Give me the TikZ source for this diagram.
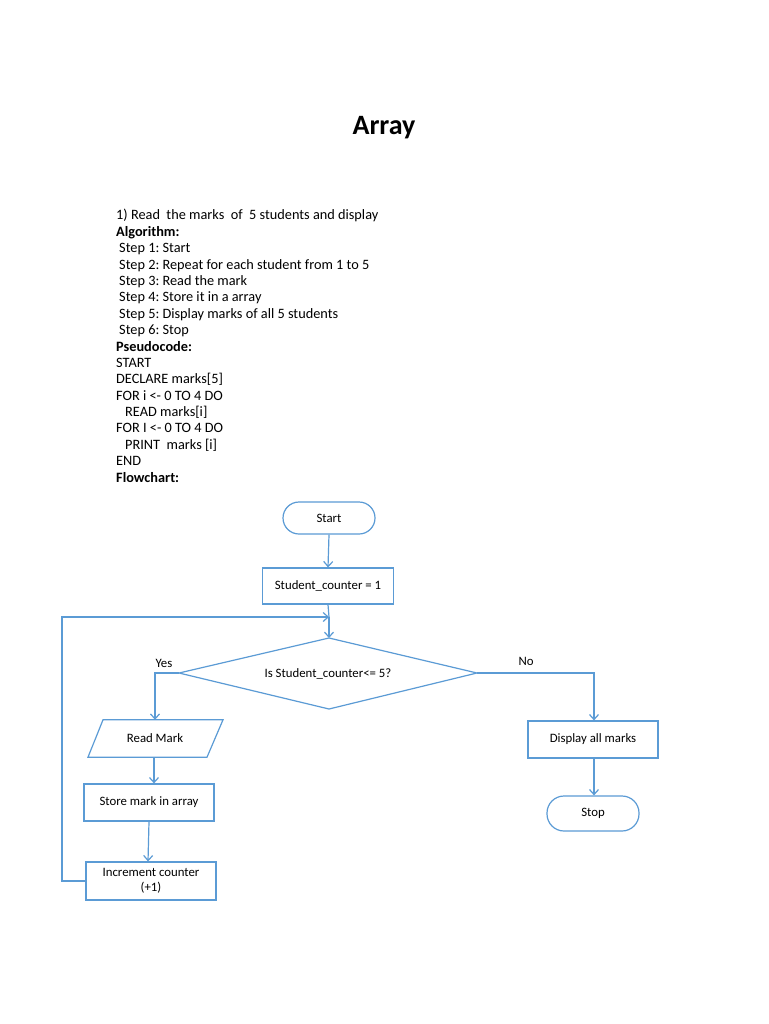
\documentclass[tikz,border=0pt]{standalone}
\usepackage{fontspec}
\setmainfont{Carlito}
\frenchspacing
\usetikzlibrary{arrows.meta}
\definecolor{fcblue}{HTML}{5B9BD5}
\tikzset{
  body/.style={anchor=base west, inner sep=0pt, font=\fontsize{14.3}{16}\selectfont},
  fcbox/.style={draw=fcblue, line width=1.2pt, fill=white, inner sep=2pt, align=center, font=\fontsize{12.8}{14.5}\selectfont},
  fctext/.style={inner sep=0pt, align=center, font=\fontsize{12.8}{14.5}\selectfont},
  flow/.style={draw=fcblue, line width=1.2pt, -{Straight Barb[length=5pt,width=9pt,line width=1.2pt]}},
  plain/.style={draw=fcblue, line width=1.2pt},
  lbl/.style={inner sep=0pt, font=\fontsize{12.8}{14.5}\selectfont}
}
\begin{document}
\begin{tikzpicture}[x=1pt,y=-1pt]
\useasboundingbox[fill=white] (0,0) rectangle (768,1024);
\node[inner sep=0pt, font=\fontsize{28}{32}\bfseries] (title) at (384,127.5) {Array};

\node[body] (l1) at (116,220) {1) Read\ \ the marks\ \ of\ \ 5 students and display};
\node[body] (l2) at (116,236.4) {\bfseries Algorithm:};
\node[body] (l3) at (119,252.8) {Step 1: Start};
\node[body] (l4) at (119,269.1) {Step 2: Repeat for each student from 1 to 5};
\node[body] (l5) at (119,285.5) {Step 3: Read the mark};
\node[body] (l6) at (119,301.9) {Step 4: Store it in a array};
\node[body] (l7) at (119,318.3) {Step 5: Display marks of all 5 students};
\node[body] (l8) at (119,334.6) {Step 6: Stop};
\node[body] (l9) at (116,351.0) {\bfseries Pseudocode:};
\node[body] (l10) at (116,367.4) {START};
\node[body] (l11) at (116,383.8) {DECLARE marks[5]};
\node[body] (l12) at (116,400.1) {FOR i <- 0 TO 4 DO};
\node[body] (l13) at (125,416.5) {READ marks[i]};
\node[body] (l14) at (116,432.9) {FOR I <- 0 TO 4 DO};
\node[body] (l15) at (125,449.3) {PRINT\ \ marks [i]};
\node[body] (l16) at (116,465.6) {END};
\node[body] (l17) at (116,482.0) {\bfseries Flowchart:};

% flowchart nodes
\node[fcbox, rounded corners=16pt, minimum width=92pt, minimum height=32pt] (start) at (329,518) {Start};
\node[fcbox, minimum width=131pt, minimum height=36pt] (init) at (328,586) {Student\_counter = 1};
\coordinate (dtop) at (329,638);
\coordinate (dleft) at (179,673);
\coordinate (dright) at (477,673);
\coordinate (dbot) at (329,709);
\draw[draw=fcblue, line width=1.2pt, fill=white] (dtop) -- (dright) -- (dbot) -- (dleft) -- cycle;
\node[fctext] (dec) at (328,673.5) {Is Student\_counter<= 5?};
\coordinate (join) at (329,617);

\node[fctext, minimum width=120pt, minimum height=37pt] (read) at (155,738.5) {Read Mark};
\draw[draw=fcblue, line width=1.2pt] ([xshift=-52pt]read.north) -- ([xshift=68pt]read.north) -- ([xshift=52pt]read.south) -- ([xshift=-67pt]read.south) -- cycle;
\node[fcbox, minimum width=130pt, minimum height=37pt] (store) at (149,802.5) {Store mark in array};
\node[fcbox, minimum width=130pt, minimum height=38pt] (inc) at (151,881) {Increment counter\\(+1)};
\node[fcbox, minimum width=130pt, minimum height=37pt] (disp) at (593,739.5) {Display all marks};
\node[fcbox, rounded corners=17pt, minimum width=92pt, minimum height=35pt] (stop) at (593,813.5) {Stop};

% connectors
\draw[flow] (start.south) -- (init.north);
\draw[plain] (init.south) -- (join);
\draw[flow] (join) -- (dtop);
\coordinate (lc) at (62,881);
\draw[flow] (inc.west) -- (lc) |- (join);
\coordinate (yc) at (155,673);
\draw[flow] (dleft) -- (yc) -- (read.north);
\coordinate (nc) at (594,673);
\draw[flow] (dright) -- (nc) -- ([xshift=1pt]disp.north);
\draw[flow] ([xshift=-1pt]read.south) -- ([xshift=5pt]store.north);
\draw[flow] (store.south) -- ([xshift=-3pt]inc.north);
\draw[flow] ([xshift=1pt]disp.south) -- ([xshift=1pt]stop.north);

\node[lbl] (yes) at (164,663.5) {Yes};
\node[lbl] (no) at (526,661.5) {No};
\end{tikzpicture}
\end{document}
